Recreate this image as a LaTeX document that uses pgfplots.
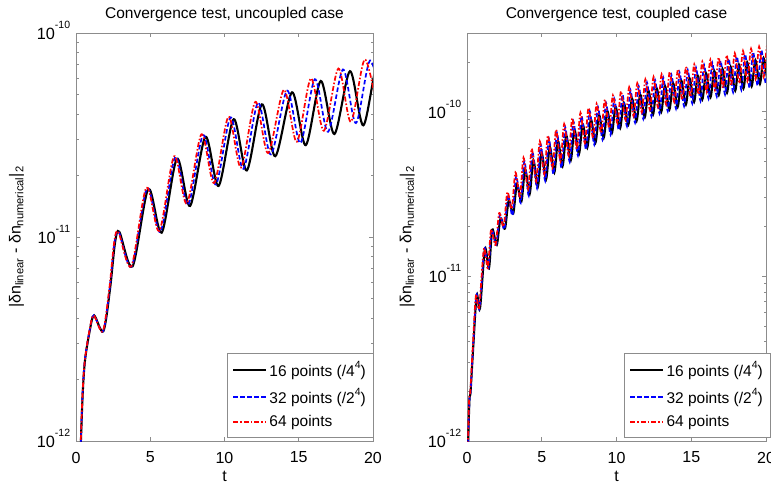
\documentclass[border=0pt]{standalone}
\usepackage{fontspec}
\setmainfont{Liberation Sans}
\usepackage{pgfplots}
\pgfplotsset{compat=1.18}
\definecolor{axgray}{RGB}{140,140,140}
\newcommand{\sexp}[1]{\raisebox{0.68em}{\fontsize{10.5}{12}\selectfont #1}}
\newcommand{\lsup}[1]{\raisebox{0.55em}{\fontsize{10.5}{12}\selectfont #1}}
\tikzset{
  blk/.style={black, line width=2.1pt, smooth},
  blu/.style={blue, line width=1.7pt, dash pattern=on 4.5pt off 2.5pt, smooth},
  rd/.style={red, line width=1.7pt, dash pattern=on 5pt off 2pt on 1.5pt off 2pt, smooth},
}
\pgfplotsset{
  mystyle/.style={
    scale only axis, height=408pt, anchor=south west,
    xmin=0, xmax=20,
    xtick={0,5,10,15,20}, xticklabels={0,5,10,15,20},
    ytick={1e-12,1e-11,1e-10},
    yticklabels={10\sexp{-12},10\sexp{-11},10\sexp{-10}},
    minor ytick={2e-12,3e-12,4e-12,5e-12,6e-12,7e-12,8e-12,9e-12,2e-11,3e-11,4e-11,5e-11,6e-11,7e-11,8e-11,9e-11,2e-10,3e-10},
    axis line style={axgray, line width=0.8pt},
    every tick/.style={axgray, line width=0.8pt},
    tick align=inside,
    major tick length=4pt, minor tick length=2.5pt,
    xticklabel style={yshift=-5.5pt, font=\fontsize{16}{18}\selectfont},
    yticklabel style={anchor=base east, yshift=-6.5pt, xshift=-0.5pt, font=\fontsize{16.3}{18}\selectfont},
    xlabel={t},
    xlabel style={at={(axis description cs:0.5,0)}, anchor=base, yshift=-40pt, font=\fontsize{16}{18}\selectfont},
    ylabel={|δn\textsubscript{linear} - δn\textsubscript{numerical}|\textsubscript{2}},
    ylabel style={at={(axis description cs:-0.2,0.5)}, anchor=center, font=\fontsize{16}{18}\selectfont},
    title style={at={(axis description cs:0.5,1)}, anchor=base, yshift=9pt},
    legend style={at={(axis description cs:1,0.0098)}, anchor=south east, draw=axgray, fill=white,
      font=\fontsize{15.5}{18}\selectfont, cells={anchor=west}, row sep=5pt, inner xsep=5pt, inner ysep=6pt},
    legend image code/.code={\draw[##1] (0pt,0pt) -- (33pt,0pt);},
  },
}
\begin{document}
\fontsize{15.5}{18}\selectfont
\begin{tikzpicture}[x=1pt,y=1pt]
\useasboundingbox (0,0) rectangle (771,483);
\clip (0,0) rectangle (771,483);
\begin{axis}[ymode=log, mystyle, at={(76pt,42pt)}, width=297pt, ymin=1e-12, ymax=1e-10,
  title={Convergence test, uncoupled case}]
\addplot[blk] coordinates {(0.31,0.9e-12) (0.45,1.7e-12) (0.61,2.5e-12) (0.94,3.52e-12) (1.22,4.13e-12) (1.84,3.45e-12) (2.29,5.55e-12) (2.63,9.4e-12) (2.92,1.06e-11) (3.81,7.18e-12) (4.87,1.72e-11) (5.77,1.05e-11) (6.8,2.42e-11) (7.68,1.42e-11) (8.72,3.1e-11) (9.6,1.78e-11) (10.62,3.78e-11) (11.5,2.12e-11) (12.52,4.47e-11) (13.42,2.49e-11) (14.55,5.12e-11) (15.47,2.82e-11) (16.48,5.82e-11) (17.4,3.2e-11) (18.45,6.5e-11) (19.35,3.53e-11) (20.35,7.2e-11) (21.3,3.9e-11)};
\addlegendentry{16 points (/4\lsup{4})}
\addplot[blu] coordinates {(0.31,0.9e-12) (0.44,1.7e-12) (0.60,2.5e-12) (0.93,3.52e-12) (1.20,4.13e-12) (1.82,3.45e-12) (2.26,5.55e-12) (2.59,9.4e-12) (2.88,1.06e-11) (3.75,7.18e-12) (4.79,1.74e-11) (5.68,1.06e-11) (6.69,2.47e-11) (7.55,1.44e-11) (8.56,3.16e-11) (9.42,1.81e-11) (10.41,3.86e-11) (11.27,2.16e-11) (12.26,4.56e-11) (13.13,2.54e-11) (14.22,5.22e-11) (15.11,2.89e-11) (16.09,5.94e-11) (16.97,3.28e-11) (17.98,6.63e-11) (18.85,3.62e-11) (19.81,7.34e-11) (20.72,3.99e-11)};
\addlegendentry{32 points (/2\lsup{4})}
\addplot[rd] coordinates {(0.30,0.9e-12) (0.44,1.7e-12) (0.60,2.5e-12) (0.92,3.52e-12) (1.19,4.13e-12) (1.80,3.45e-12) (2.24,5.55e-12) (2.57,9.4e-12) (2.85,1.06e-11) (3.72,7.18e-12) (4.74,1.75e-11) (5.61,1.07e-11) (6.61,2.49e-11) (7.46,1.46e-11) (8.45,3.19e-11) (9.30,1.84e-11) (10.27,3.89e-11) (11.11,2.19e-11) (12.08,4.60e-11) (12.94,2.58e-11) (14.0,5.27e-11) (14.87,2.93e-11) (15.82,5.99e-11) (16.69,3.32e-11) (17.67,6.70e-11) (18.51,3.67e-11) (19.45,7.42e-11) (20.33,4.05e-11)};
\addlegendentry{64 points}
\end{axis}
\begin{axis}[ymode=log, mystyle, at={(467pt,42pt)}, width=299pt, ymin=1e-12, ymax=3e-10,
  title={Convergence test, coupled case}, legend style={xshift=4pt}]
\addplot[blk] coordinates {(0.05,0.8e-12) (0.16,1.75e-12) (0.24,2.0e-12) (0.42,3.77e-12) (0.65,7.7e-12) (0.87,6.4e-12) (1.2,1.47e-11) (1.47,1.12e-11) (1.69,1.92e-11) (1.99,1.55e-11) (2.24,2.24e-11) (2.54,1.95e-11) (2.79,2.88e-11) (3.09,2.40e-11) (3.34,3.63e-11) (3.64,2.85e-11) (3.89,4.47e-11) (4.19,3.16e-11) (4.44,5.07e-11) (4.74,3.51e-11) (4.99,5.62e-11) (5.29,3.89e-11) (5.54,6.10e-11) (5.84,4.27e-11) (6.09,6.61e-11) (6.39,4.66e-11) (6.64,7.16e-11) (6.94,5.07e-11) (7.19,7.76e-11) (7.49,5.53e-11) (7.74,8.39e-11) (8.04,6.03e-11) (8.29,8.97e-11) (8.59,6.46e-11) (8.84,9.51e-11) (9.14,6.92e-11) (9.39,1.005e-10) (9.69,7.41e-11) (9.94,1.069e-10) (10.24,7.93e-11) (10.49,1.132e-10) (10.79,8.34e-11) (11.04,1.199e-10) (11.34,8.77e-11) (11.59,1.268e-10) (11.89,9.25e-11) (12.14,1.337e-10) (12.44,9.59e-11) (12.69,1.384e-10) (12.99,9.95e-11) (13.24,1.435e-10) (13.54,1.030e-10) (13.79,1.486e-10) (14.09,1.067e-10) (14.34,1.538e-10) (14.64,1.104e-10) (14.89,1.592e-10) (15.19,1.146e-10) (15.44,1.648e-10) (15.74,1.186e-10) (15.99,1.710e-10) (16.29,1.225e-10) (16.54,1.762e-10) (16.84,1.262e-10) (17.09,1.816e-10) (17.39,1.300e-10) (17.64,1.871e-10) (17.94,1.340e-10) (18.19,1.928e-10) (18.49,1.384e-10) (18.74,1.991e-10) (19.04,1.426e-10) (19.29,2.051e-10) (19.59,1.469e-10) (19.84,2.113e-10) (20.14,1.514e-10) (20.39,2.178e-10) (20.69,1.55e-10)};
\addlegendentry{16 points (/4\lsup{4})}
\addplot[blu] coordinates {(0.05,0.8e-12) (0.16,1.75e-12) (0.24,2.0e-12) (0.41,3.77e-12) (0.63,7.7e-12) (0.84,6.4e-12) (1.16,1.47e-11) (1.43,1.12e-11) (1.65,1.92e-11) (1.95,1.55e-11) (2.20,2.37e-11) (2.50,1.93e-11) (2.74,3.14e-11) (3.04,2.34e-11) (3.29,4.07e-11) (3.59,2.79e-11) (3.84,5.02e-11) (4.13,3.09e-11) (4.38,5.69e-11) (4.68,3.43e-11) (4.93,6.31e-11) (5.23,3.80e-11) (5.48,6.84e-11) (5.78,4.17e-11) (6.02,7.42e-11) (6.32,4.55e-11) (6.57,8.03e-11) (6.87,4.95e-11) (7.12,8.71e-11) (7.42,5.41e-11) (7.66,9.41e-11) (7.96,5.89e-11) (8.21,1.006e-10) (8.51,6.31e-11) (8.76,1.067e-10) (9.06,6.76e-11) (9.30,1.128e-10) (9.60,7.24e-11) (9.85,1.199e-10) (10.15,7.74e-11) (10.40,1.270e-10) (10.70,8.15e-11) (10.94,1.345e-10) (11.24,8.57e-11) (11.49,1.423e-10) (11.79,9.03e-11) (12.04,1.500e-10) (12.34,9.37e-11) (12.58,1.553e-10) (12.88,9.73e-11) (13.13,1.610e-10) (13.43,1.006e-10) (13.68,1.667e-10) (13.98,1.042e-10) (14.22,1.726e-10) (14.52,1.079e-10) (14.77,1.786e-10) (15.07,1.120e-10) (15.32,1.849e-10) (15.62,1.159e-10) (15.86,1.919e-10) (16.16,1.197e-10) (16.41,1.977e-10) (16.71,1.233e-10) (16.96,2.038e-10) (17.26,1.270e-10) (17.50,2.099e-10) (17.80,1.309e-10) (18.05,2.163e-10) (18.35,1.352e-10) (18.60,2.234e-10) (18.90,1.393e-10) (19.14,2.301e-10) (19.44,1.435e-10) (19.69,2.371e-10) (19.99,1.479e-10) (20.24,2.444e-10) (20.53,1.515e-10)};
\addlegendentry{32 points (/2\lsup{4})}
\addplot[rd] coordinates {(0.04,0.8e-12) (0.14,1.75e-12) (0.22,2.0e-12) (0.39,3.77e-12) (0.60,7.7e-12) (0.81,6.4e-12) (1.13,1.47e-11) (1.39,1.12e-11) (1.61,1.92e-11) (1.91,1.55e-11) (2.15,2.42e-11) (2.45,2.01e-11) (2.70,3.25e-11) (2.99,2.57e-11) (3.24,4.27e-11) (3.54,3.05e-11) (3.78,5.25e-11) (4.08,3.39e-11) (4.33,5.96e-11) (4.62,3.76e-11) (4.87,6.60e-11) (5.17,4.17e-11) (5.41,7.17e-11) (5.71,4.57e-11) (5.96,7.77e-11) (6.25,4.99e-11) (6.50,8.41e-11) (6.80,5.43e-11) (7.04,9.12e-11) (7.34,5.93e-11) (7.59,9.86e-11) (7.88,6.46e-11) (8.13,1.054e-10) (8.43,6.92e-11) (8.67,1.117e-10) (8.97,7.41e-11) (9.22,1.181e-10) (9.51,7.94e-11) (9.76,1.256e-10) (10.06,8.49e-11) (10.30,1.330e-10) (10.60,8.93e-11) (10.85,1.409e-10) (11.14,9.40e-11) (11.39,1.490e-10) (11.69,9.91e-11) (11.93,1.571e-10) (12.23,1.028e-10) (12.48,1.626e-10) (12.77,1.067e-10) (13.02,1.686e-10) (13.32,1.104e-10) (13.56,1.746e-10) (13.86,1.143e-10) (14.11,1.807e-10) (14.40,1.183e-10) (14.65,1.871e-10) (14.95,1.228e-10) (15.20,1.936e-10) (15.49,1.271e-10) (15.74,2.009e-10) (16.03,1.313e-10) (16.28,2.070e-10) (16.58,1.352e-10) (16.83,2.134e-10) (17.12,1.393e-10) (17.37,2.198e-10) (17.66,1.436e-10) (17.91,2.265e-10) (18.21,1.483e-10) (18.46,2.339e-10) (18.75,1.528e-10) (19.00,2.410e-10) (19.30,1.574e-10) (19.54,2.483e-10) (19.84,1.622e-10) (20.09,2.559e-10) (20.38,1.66e-10)};
\addlegendentry{64 points}
\end{axis}
\end{tikzpicture}
\end{document}
